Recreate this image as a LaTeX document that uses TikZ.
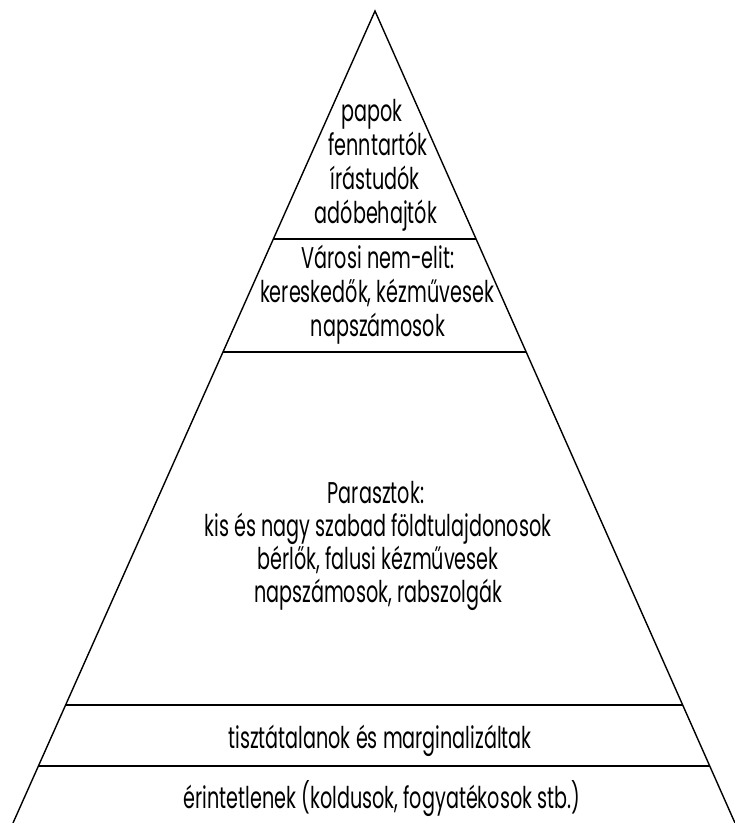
\documentclass[tikz,border=0pt]{standalone}
\usepackage{fontspec}
\setmainfont{Poppins}[FakeStretch=0.64]
\usetikzlibrary{calc}
\tikzset{
  edge/.style={line width=1.4pt, line join=miter},
  tier/.style={line width=1.4pt},
  lbl/.style={inner sep=0pt, anchor=base, font=\fontsize{30}{34}\selectfont}
}
\begin{document}
\begin{tikzpicture}[x=1pt,y=-1pt]
\useasboundingbox (0,0) rectangle (735,823);
\coordinate (A) at (375,11);
\coordinate (BL) at (13,823);
\coordinate (BR) at (735,823);
\draw[edge] (BL) -- (A) -- (BR);
\foreach \f/\n in {0.2808/1,0.4200/2,0.8547/3,0.9298/4}{
  \coordinate (L\n) at ($(A)!\f!(BL)$);
  \coordinate (R\n) at ($(A)!\f!(BR)$);
  \draw[tier] (L\n) -- (R\n);
}
% tier 1
\node[lbl] (t1a) at (372,121) {papok};
\node[lbl] (t1b) at (378,155) {fenntartók};
\node[lbl] (t1c) at (375,189) {írástudók};
\node[lbl] (t1d) at (376,223) {adóbehajtók};
% tier 2
\node[lbl] (t2a) at (378,268) {Városi nem-elit:};
\node[lbl] (t2b) at (377,302) {kereskedők, kézművesek};
\node[lbl] (t2c) at (378,336) {napszámosok};
% tier 3
\node[lbl] (t3a) at (376,503) {Parasztok:};
\node[lbl] (t3b) at (378,536) {kis és nagy szabad földtulajdonosok};
\node[lbl] (t3c) at (378,569) {bérlők, falusi kézművesek};
\node[lbl] (t3d) at (378,602) {napszámosok, rabszolgák};
% tier 4
\node[lbl] (t4) at (380,748) {tisztátalanok és marginalizáltak};
% tier 5
\node[lbl] (t5) at (382,808) {érintetlenek (koldusok, fogyatékosok stb.)};
\end{tikzpicture}
\end{document}
